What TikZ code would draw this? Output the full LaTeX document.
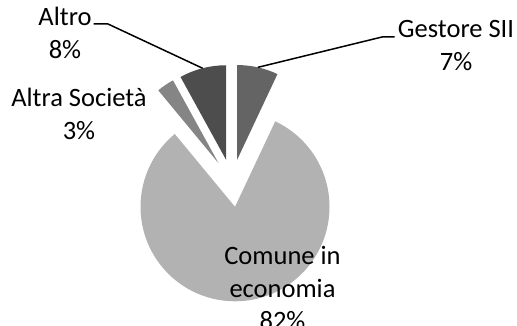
\documentclass[tikz,border=0pt]{standalone}
\usepackage{fontspec}
\setmainfont{Carlito}
\usetikzlibrary{calc}
\definecolor{cGest}{HTML}{646464}
\definecolor{cCom}{HTML}{B2B2B2}
\definecolor{cAltraS}{HTML}{858585}
\definecolor{cAltro}{HTML}{4D4D4D}
\begin{document}
\begin{tikzpicture}[x=1pt,y=1pt,
  lbl/.style={align=center,inner sep=0pt,font=\fontsize{26.5}{32.5}\selectfont},
  leader/.style={draw=black,line width=1.5pt}]
\useasboundingbox (0,0) rectangle (517,326);
\def\R{94.5}
\coordinate (pc) at (232,143);
\coordinate (aGest) at ($(pc)+(77.4:24)$);
\coordinate (aCom) at ($(pc)+(277.2:24)$);
\coordinate (aAltraS) at ($(pc)+(124.2:24)$);
\coordinate (aAltro) at ($(pc)+(104.4:24)$);
\fill[cCom] (aCom) -- ++(129.6:\R) arc[start angle=129.6,end angle=424.8,radius=\R] -- cycle;
\fill[cGest] (aGest) -- ++(64.8:\R) arc[start angle=64.8,end angle=90,radius=\R] -- cycle;
\fill[cAltraS] (aAltraS) -- ++(118.8:\R) arc[start angle=118.8,end angle=129.6,radius=\R] -- cycle;
\fill[cAltro] (aAltro) -- ++(90:\R) arc[start angle=90,end angle=118.8,radius=\R] -- cycle;
\coordinate (mGest) at ($(aGest)+(77.4:\R)$);
\coordinate (mAltro) at ($(aAltro)+(104.4:\R)$);
% labels
\node[lbl] (lAltro) at (65,293) {Altro\\8\%};
\node[lbl] (lAltraS) at (79,212) {Altra Società\\3\%};
\node[lbl] (lGest) at (456,280.5) {Gestore SII\\7\%};
\node[lbl] (lCom) at (282.5,38) {Comune in\\economia\\82\%};
% leaders
\coordinate (kAltro) at (108,302);
\coordinate (kGest) at (382,289);
\draw[leader] (mAltro) -- (kAltro) -- ([xshift=2pt]lAltro.east |- kAltro);
\draw[leader] (mGest) -- (kGest) -- ([xshift=-3pt]lGest.west |- kGest);
\end{tikzpicture}
\end{document}
